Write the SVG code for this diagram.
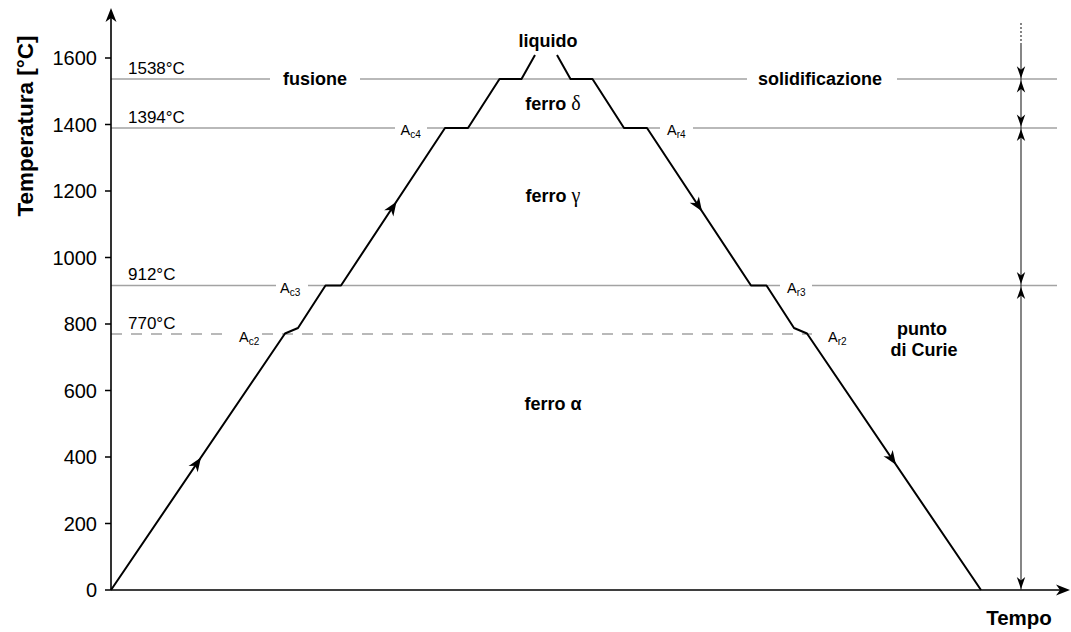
<svg xmlns="http://www.w3.org/2000/svg" xmlns:xlink="http://www.w3.org/1999/xlink" width="1071" height="632" viewBox="0 0 1071 632">
<style>
text{font-family:"Liberation Sans",Arial,sans-serif;fill:#000}
.tick{font-size:20px;text-anchor:end}
.temp{font-size:17px}
.b{font-weight:bold;font-size:18px}
.g{font-family:"Liberation Serif","Times New Roman",serif;font-weight:normal;font-size:20px}
.a{font-size:14.5px}
.sub{font-size:10px}
.ref{stroke:#a3a3a3;stroke-width:1.3;fill:none}
.dash{stroke-dasharray:11 9}
.axis{stroke:#000;stroke-width:1.6;fill:none}
.curve{stroke:#000;stroke-width:2;fill:none;stroke-linejoin:round}
.dim{stroke:#222;stroke-width:1.1;fill:none}
</style>
<defs>
<path id="ah" d="M0,0 L-14,-5.5 L-10,0 L-14,5.5 Z" fill="#000"/>
<path id="ah2" d="M0,0 L-12,-4.2 L-8.5,0 L-12,4.2 Z" fill="#000"/>
</defs>
<rect width="1071" height="632" fill="#fff"/>

<g id="reference-lines">
<path class="ref" d="M111,79 H270 M360,79 H747 M897,79 H1057"/>
<path class="ref" d="M111,128 H395 M427,128 H660 M693,128 H1057"/>
<path class="ref" d="M111,285.5 H276 M308,285.5 H780 M812,285.5 H1057"/>
<path class="ref dash" d="M111,334 H230 M262,334 H812"/>
</g>

<g id="axes">
<path class="axis" d="M111,590 V18 M111,590 H1060"/>
<path class="axis" d="M105,58 H111 M105,124.5 H111 M105,191 H111 M105,257.5 H111 M105,324 H111 M105,390.5 H111 M105,457 H111 M105,523.5 H111 M105,590 H111"/>
<use xlink:href="#ah" href="#ah" transform="translate(111,8) rotate(-90)"/>
<use xlink:href="#ah" href="#ah" transform="translate(1070,590)"/>
<text class="tick" x="97" y="65">1600</text>
<text class="tick" x="97" y="131.5">1400</text>
<text class="tick" x="97" y="198">1200</text>
<text class="tick" x="97" y="264.5">1000</text>
<text class="tick" x="97" y="331">800</text>
<text class="tick" x="97" y="397.5">600</text>
<text class="tick" x="97" y="464">400</text>
<text class="tick" x="97" y="530.5">200</text>
<text class="tick" x="97" y="597">0</text>
<text font-weight="bold" font-size="22.5" text-anchor="middle" transform="translate(33,126) rotate(-90)">Temperatura [°C]</text>
<text font-weight="bold" font-size="20.5" text-anchor="middle" x="1019" y="625">Tempo</text>
</g>

<g id="temperature-labels">
<text class="temp" x="128" y="73.5">1538°C</text>
<text class="temp" x="128" y="122.5">1394°C</text>
<text class="temp" x="128" y="280">912°C</text>
<text class="temp" x="128" y="329">770°C</text>
</g>

<g id="heating-curve">
<path class="curve" d="M111,590 L285,333.5 L298,328 L325.5,285.5 L341,285.5 L445,128 L468,128 L499.5,79 L521.5,79 L535,55"/>
<use xlink:href="#ah" href="#ah" transform="translate(201,457.5) rotate(-55.85)"/>
<use xlink:href="#ah" href="#ah" transform="translate(396.5,201.7) rotate(-56.5)"/>
</g>

<g id="cooling-curve">
<path class="curve" d="M557,55 L570.5,79 L592.5,79 L624,128 L647,128 L751,285.5 L766.5,285.5 L794,328 L807,333.5 L981,590"/>
<use xlink:href="#ah" href="#ah" transform="translate(702,211.3) rotate(56.6)"/>
<use xlink:href="#ah" href="#ah" transform="translate(896,464.7) rotate(55.85)"/>
</g>

<g id="critical-points">
<text class="a" x="239" y="342">A<tspan class="sub" dy="3">c2</tspan></text>
<text class="a" x="280" y="293">A<tspan class="sub" dy="3">c3</tspan></text>
<text class="a" x="400.5" y="135">A<tspan class="sub" dy="3">c4</tspan></text>
<text class="a" x="667" y="135">A<tspan class="sub" dy="3">r4</tspan></text>
<text class="a" x="787" y="293">A<tspan class="sub" dy="3">r3</tspan></text>
<text class="a" x="828" y="342">A<tspan class="sub" dy="3">r2</tspan></text>
</g>

<g id="phase-labels">
<text class="b" x="548" y="46.5" text-anchor="middle">liquido</text>
<text class="b" x="553" y="110" text-anchor="middle">ferro <tspan class="g">δ</tspan></text>
<text class="b" x="553" y="202" text-anchor="middle">ferro <tspan class="g">γ</tspan></text>
<text class="b" x="553" y="410" text-anchor="middle">ferro α</text>
<text class="b" x="283" y="84.5">fusione</text>
<text class="b" x="758" y="84.5">solidificazione</text>
<text class="b" x="922" y="335" text-anchor="middle">punto</text>
<text class="b" x="924" y="356" text-anchor="middle">di Curie</text>
</g>

<g id="dimension-line">
<path class="dim" d="M1021,23 V43" stroke-dasharray="2 2"/>
<path class="dim" d="M1021,43 V590"/>
<use xlink:href="#ah2" href="#ah2" transform="translate(1021,78.3) rotate(90)"/>
<use xlink:href="#ah2" href="#ah2" transform="translate(1021,80.5) rotate(-90)"/>
<use xlink:href="#ah2" href="#ah2" transform="translate(1021,126.5) rotate(90)"/>
<use xlink:href="#ah2" href="#ah2" transform="translate(1021,129) rotate(-90)"/>
<use xlink:href="#ah2" href="#ah2" transform="translate(1021,284) rotate(90)"/>
<use xlink:href="#ah2" href="#ah2" transform="translate(1021,287) rotate(-90)"/>
<use xlink:href="#ah2" href="#ah2" transform="translate(1021,589) rotate(90)"/>
</g>
</svg>
